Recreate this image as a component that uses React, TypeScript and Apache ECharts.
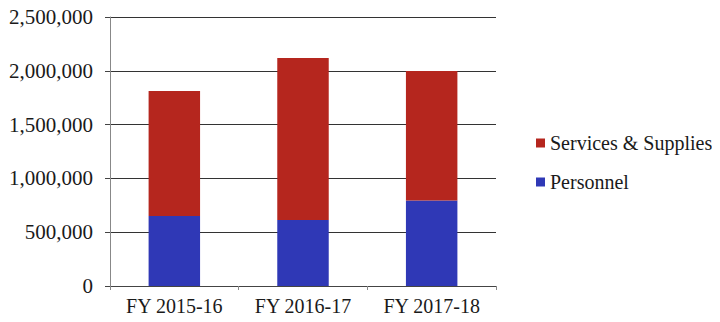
import React, { useEffect, useRef } from "react";
import * as echarts from "echarts";

const categories = ["FY 2015-16", "FY 2016-17", "FY 2017-18"];
const personnel = [650000, 613000, 795000];
const servicesSupplies = [1162000, 1506000, 1203000];
const seriesNames = ["Services & Supplies", "Personnel"];

export default function App() {
  const ref = useRef<HTMLDivElement>(null);
  useEffect(() => {
    const chart = echarts.init(ref.current!, null, { renderer: "svg" });
    const font = "Liberation Serif";
    chart.setOption({
      animation: false,
      backgroundColor: "#ffffff",
      textStyle: { fontFamily: font },
      grid: { left: 110, right: 224, top: 17, bottom: 36 },
      legend: {
        orient: "vertical",
        left: 536,
        top: 133,
        padding: 0,
        itemWidth: 9,
        itemHeight: 9,
        itemGap: 19,
        icon: "rect",
        data: seriesNames,
        textStyle: { fontFamily: font, fontSize: 20, color: "#1a1a1a" },
      },
      xAxis: {
        type: "category",
        data: categories,
        axisLine: { lineStyle: { color: "#444", width: 1 } },
        axisTick: { show: true, length: 4, lineStyle: { color: "#888" } },
        axisLabel: { fontFamily: font, fontSize: 20, color: "#1a1a1a", margin: 10 },
      },
      yAxis: {
        type: "value",
        min: 0,
        max: 2500000,
        interval: 500000,
        axisLine: { show: true, lineStyle: { color: "#888", width: 1 } },
        axisTick: { show: true, length: 5, lineStyle: { color: "#444" } },
        axisLabel: {
          fontFamily: font,
          fontSize: 21,
          color: "#1a1a1a",
          margin: 17,
          formatter: (v: number) => v.toLocaleString("en-US"),
        },
        splitLine: { lineStyle: { color: "#333", width: 1 } },
      },
      series: [
        {
          name: "Personnel",
          type: "bar",
          stack: "total",
          data: personnel,
          barWidth: "40%",
          itemStyle: { color: "#2f38b6" },
        },
        {
          name: "Services & Supplies",
          type: "bar",
          stack: "total",
          data: servicesSupplies,
          barWidth: "40%",
          itemStyle: { color: "#b5261e" },
        },
      ],
    });
    return () => chart.dispose();
  }, []);
  return <div ref={ref} style={{ width: 720, height: 322, margin: -8 }} />;
}
